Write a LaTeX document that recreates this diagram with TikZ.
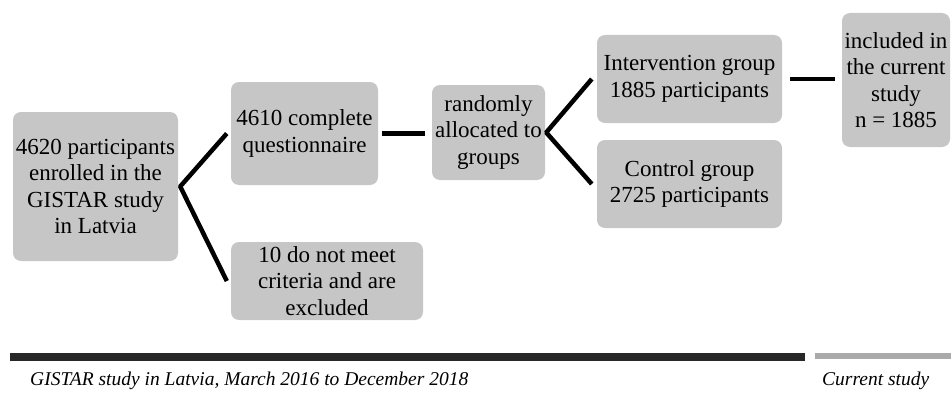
\documentclass[tikz,border=0pt]{standalone}
\usepackage{fontspec}
\setmainfont{Liberation Serif}
\definecolor{boxgray}{RGB}{198,198,198}
\definecolor{bardark}{RGB}{40,40,40}
\definecolor{barlight}{RGB}{170,170,170}
\tikzset{
  box/.style={fill=boxgray,rounded corners=8pt,align=center,inner sep=1pt,
    font=\fontsize{23}{26.5}\selectfont},
  link/.style={line width=4.5pt,line join=round},
  period/.style={font=\fontsize{19.5}{24}\selectfont\itshape,inner sep=0}
}
\begin{document}
\begin{tikzpicture}[x=1pt,y=1pt]
    \useasboundingbox (0,0) rectangle (951,392);
    \node[box,minimum width=165pt,minimum height=149pt] (enrolled) at (95.5,205.5)
      {4620 participants\\enrolled in the\\GISTAR study\\in Latvia};
    \node[box,minimum width=147pt,minimum height=103pt] (complete) at (304.5,258.5)
      {4610 complete\\questionnaire};
    \node[box,minimum width=192pt,minimum height=78pt] (excluded) at (327,111)
      {10 do not meet\\criteria and are\\excluded};
    \node[box,minimum width=113pt,minimum height=95pt] (random) at (488.5,259.5)
      {randomly\\allocated to\\groups};
    \node[box,minimum width=185pt,minimum height=88pt] (interv) at (689.5,313)
      {Intervention group\\1885 participants};
    \node[box,minimum width=185pt,minimum height=88pt] (control) at (689.5,208)
      {Control group\\2725 participants};
    \node[box,minimum width=108pt,minimum height=134pt] (current) at (896,312)
      {included in\\the current\\study\\n = 1885};

    \draw[link] ([xshift=-4pt]complete.west) -- ([xshift=2pt]enrolled.east) -- ([xshift=-4pt]excluded.west);
    \draw[link] ([xshift=-5pt]interv.west) -- ([xshift=1pt]random.east) -- ([xshift=-5pt]control.west);
    \draw[link,shorten <=4pt,shorten >=7pt] (complete.east) -- (complete.east -| random.west);
    \draw[link,shorten <=8pt,shorten >=7pt] (interv.east) -- (interv.east -| current.west);

    \fill[bardark] (10,31) rectangle (805,39);
    \fill[barlight] (815,33) rectangle (951,39);
    \node[period,anchor=west] (gistar) at (30,11) {GISTAR study in Latvia, March 2016 to December 2018};
    \node[period,anchor=west] (curlabel) at (822,11) {Current study};
  \end{tikzpicture}
\end{document}
